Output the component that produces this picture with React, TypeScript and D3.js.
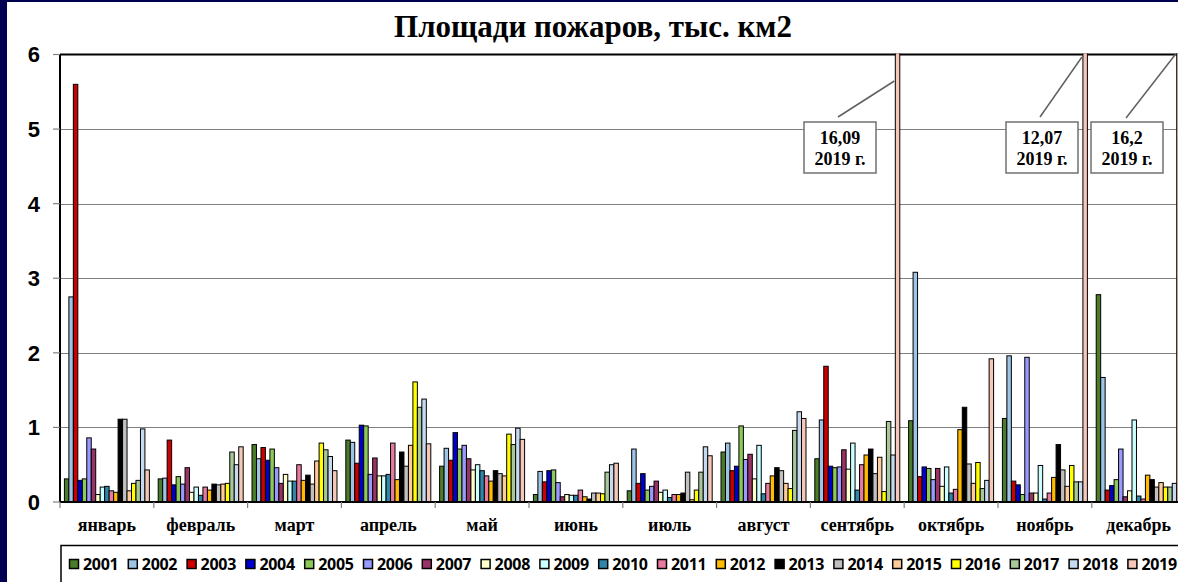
import { useEffect, useRef } from 'react';
import * as d3 from 'd3';

const months = ['январь', 'февраль', 'март', 'апрель', 'май', 'июнь', 'июль', 'август', 'сентябрь', 'октябрь', 'ноябрь', 'декабрь'];
const years = ['2001', '2002', '2003', '2004', '2005', '2006', '2007', '2008', '2009', '2010', '2011', '2012', '2013', '2014', '2015', '2016', '2017', '2018', '2019'];
const colors = ['#4a7c2a', '#9dc3e6', '#cc0000', '#0000cc', '#8cc95a', '#9999ff', '#993366', '#ffffcc', '#ccffff', '#2f86a8', '#e87aa0', '#ffbb00', '#000000', '#c0c0c0', '#ffcc99', '#ffff00', '#a8c89a', '#c5d9f1', '#f4c7b8'];

// values per month, one per year 2001..2019 (тыс. км2)
const jan = [0.31, 2.75, 5.6, 0.29, 0.31, 0.86, 0.71, 0.1, 0.2, 0.21, 0.15, 0.13, 1.11, 1.11, 0.15, 0.25, 0.29, 0.98, 0.43];
const feb = [0.31, 0.32, 0.83, 0.23, 0.34, 0.24, 0.46, 0.13, 0.2, 0.09, 0.2, 0.16, 0.24, 0.23, 0.24, 0.25, 0.67, 0.5, 0.74];
const mar = [0.77, 0.58, 0.73, 0.56, 0.71, 0.46, 0.25, 0.37, 0.28, 0.28, 0.5, 0.29, 0.36, 0.24, 0.55, 0.79, 0.7, 0.61, 0.42];
const apr = [0.83, 0.8, 0.52, 1.03, 1.02, 0.37, 0.59, 0.35, 0.35, 0.37, 0.79, 0.3, 0.67, 0.48, 0.76, 1.61, 1.27, 1.38, 0.78];
const may = [0.48, 0.72, 0.56, 0.93, 0.71, 0.76, 0.58, 0.43, 0.5, 0.42, 0.35, 0.28, 0.42, 0.38, 0.35, 0.91, 0.77, 0.99, 0.84];
const jun = [0.1, 0.41, 0.27, 0.42, 0.43, 0.26, 0.07, 0.1, 0.09, 0.09, 0.16, 0.07, 0.04, 0.12, 0.12, 0.11, 0.4, 0.5, 0.52];
const jul = [0.15, 0.71, 0.25, 0.38, 0.16, 0.21, 0.28, 0.13, 0.16, 0.06, 0.1, 0.1, 0.12, 0.4, 0.03, 0.16, 0.4, 0.74, 0.62];
const aug = [0.67, 0.79, 0.42, 0.48, 1.02, 0.57, 0.64, 0.31, 0.76, 0.11, 0.25, 0.35, 0.46, 0.42, 0.25, 0.18, 0.96, 1.21, 1.12];
const sep = [0.58, 1.1, 1.82, 0.48, 0.46, 0.47, 0.7, 0.44, 0.79, 0.16, 0.5, 0.63, 0.71, 0.38, 0.6, 0.14, 1.08, 0.63, 16.09];
const oct = [1.09, 3.08, 0.34, 0.47, 0.45, 0.3, 0.45, 0.21, 0.47, 0.12, 0.17, 0.97, 1.27, 0.51, 0.25, 0.53, 0.18, 0.29, 1.92];
const nov = [1.12, 1.96, 0.28, 0.23, 0.1, 1.94, 0.12, 0.12, 0.49, 0.04, 0.12, 0.33, 0.77, 0.43, 0.21, 0.49, 0.27, 0.27, 12.07];
const dec = [2.78, 1.67, 0.16, 0.22, 0.3, 0.71, 0.07, 0.15, 1.1, 0.08, 0.04, 0.36, 0.3, 0.2, 0.26, 0.2, 0.2, 0.25, 16.2];
const monthValues = [jan, feb, mar, apr, may, jun, jul, aug, sep, oct, nov, dec];

const yTicks = [0, 1, 2, 3, 4, 5, 6];

// off-scale values, labelled by hand like in the original
const callouts = [
  { month: 'сентябрь', value: '16,09', note: '2019 г.' },
  { month: 'ноябрь', value: '12,07', note: '2019 г.' },
  { month: 'декабрь', value: '16,2', note: '2019 г.' },
];
const calloutLayout = [
  { boxX: 804, lineX: 838, lineY: 117, endY: 81 },
  { boxX: 1006, lineX: 1040, lineY: 117, endY: 57 },
  { boxX: 1091, lineX: 1126, lineY: 118, endY: 54 },
];

const W = 1178;
const H = 582;

const FiresChart = () => {
  const svgRef = useRef<SVGSVGElement | null>(null);

  useEffect(() => {
    const svg = d3.select(svgRef.current);
    svg.selectAll('*').remove();

    const margin = { top: 54.5, left: 60, bottom: 502 };
    const step = 93.8;
    const plotRight = margin.left + step * months.length;

    // background (slide frame)
    svg.append('rect').attr('width', W).attr('height', H).attr('fill', '#000050');
    svg.append('rect').attr('x', 7).attr('y', 2).attr('width', W).attr('height', H).attr('fill', '#fff');

    const x0 = d3.scaleBand<string>()
      .domain(months)
      .range([margin.left, plotRight])
      .paddingInner(0.094)
      .paddingOuter(0.047);
    const x1 = d3.scaleBand<string>()
      .domain(years)
      .range([0, x0.bandwidth()]);
    const y = d3.scaleLinear().domain([0, 6]).range([margin.bottom, margin.top]);

    // title
    svg.append('text')
      .attr('x', 593)
      .attr('y', 37)
      .attr('text-anchor', 'middle')
      .attr('font-family', '"Liberation Serif", "Times New Roman", serif')
      .attr('font-weight', 'bold')
      .attr('font-size', 31)
      .text('Площади пожаров, тыс. км2');

    // gridlines
    svg.append('g')
      .selectAll('line')
      .data(yTicks.filter(d => d > 0 && d < 6))
      .enter()
      .append('line')
      .attr('x1', margin.left)
      .attr('x2', plotRight)
      .attr('y1', d => Math.round(y(d)) + 0.5)
      .attr('y2', d => Math.round(y(d)) + 0.5)
      .attr('stroke', '#808080')
      .attr('stroke-width', 1.2);

    // plot frame top
    svg.append('line')
      .attr('x1', margin.left).attr('x2', plotRight)
      .attr('y1', y(6)).attr('y2', y(6))
      .attr('stroke', '#000').attr('stroke-width', 2);

    // y axis
    const yAxis = svg.append('g');
    yAxis.append('line')
      .attr('x1', margin.left).attr('x2', margin.left)
      .attr('y1', y(6)).attr('y2', y(0))
      .attr('stroke', '#000').attr('stroke-width', 2);
    yAxis.selectAll('.ytick')
      .data(yTicks)
      .enter()
      .append('line')
      .attr('x1', margin.left - 7).attr('x2', margin.left)
      .attr('y1', d => y(d)).attr('y2', d => y(d))
      .attr('stroke', '#808080').attr('stroke-width', 1.2);
    yAxis.selectAll('.ylab')
      .data(yTicks)
      .enter()
      .append('text')
      .attr('x', 40)
      .attr('y', d => y(d))
      .attr('dy', '0.36em')
      .attr('text-anchor', 'end')
      .attr('font-family', '"Liberation Sans", Arial, sans-serif')
      .attr('font-weight', 'bold')
      .attr('font-size', 22)
      .text(d => d);

    // bars
    const defs = svg.append('defs');
    defs.append('clipPath').attr('id', 'plot-clip')
      .append('rect')
      .attr('x', margin.left).attr('y', margin.top - 1)
      .attr('width', plotRight - margin.left).attr('height', margin.bottom - margin.top + 1);

    const bars = svg.append('g').attr('clip-path', 'url(#plot-clip)');
    const groups = bars.selectAll('.month')
      .data(monthValues)
      .enter()
      .append('g')
      .attr('class', 'month')
      .attr('transform', (d, i) => `translate(${x0(months[i])}, 0)`);

    groups.selectAll('rect')
      .data(vals => vals.map((v, j) => ({ v, j })))
      .enter()
      .append('rect')
      .attr('x', d => x1(years[d.j]) as number)
      .attr('y', d => y(d.v))
      .attr('width', x1.bandwidth())
      .attr('height', d => y(0) - y(d.v))
      .attr('fill', d => colors[d.j])
      .attr('stroke', '#000')
      .attr('stroke-width', 1);

    // x axis
    const xAxis = svg.append('g');
    xAxis.append('line')
      .attr('x1', margin.left).attr('x2', plotRight)
      .attr('y1', y(0)).attr('y2', y(0))
      .attr('stroke', '#000').attr('stroke-width', 2);
    xAxis.selectAll('.xtick')
      .data(d3.range(months.length + 1))
      .enter()
      .append('line')
      .attr('x1', i => margin.left + i * step)
      .attr('x2', i => margin.left + i * step)
      .attr('y1', y(0)).attr('y2', y(0) + 6)
      .attr('stroke', '#808080').attr('stroke-width', 1.2);
    xAxis.selectAll('.xlab')
      .data(months)
      .enter()
      .append('text')
      .attr('x', d => (x0(d) as number) + x0.bandwidth() / 2)
      .attr('y', 531)
      .attr('text-anchor', 'middle')
      .attr('font-family', '"Liberation Serif", "Times New Roman", serif')
      .attr('font-weight', 'bold')
      .attr('font-size', 18)
      .text(d => d);

    // callouts for off-scale bars
    callouts.forEach((c, k) => {
      const L = calloutLayout[k];
      const barX = (x0(c.month) as number) + (x1('2019') as number);
      svg.append('line')
        .attr('x1', L.lineX).attr('y1', L.lineY)
        .attr('x2', barX - 1).attr('y2', L.endY)
        .attr('stroke', '#606060').attr('stroke-width', 1.5);
      const g = svg.append('g').attr('transform', `translate(${L.boxX}, 122)`);
      g.append('rect')
        .attr('width', 72).attr('height', 51)
        .attr('fill', '#fff')
        .attr('stroke', '#707070').attr('stroke-width', 1.5);
      g.append('text')
        .attr('x', 36).attr('y', 22)
        .attr('text-anchor', 'middle')
        .attr('font-family', '"Liberation Serif", "Times New Roman", serif')
        .attr('font-weight', 'bold')
        .attr('font-size', 18)
        .text(c.value);
      g.append('text')
        .attr('x', 36).attr('y', 43)
        .attr('text-anchor', 'middle')
        .attr('font-family', '"Liberation Serif", "Times New Roman", serif')
        .attr('font-weight', 'bold')
        .attr('font-size', 18)
        .text(c.note);
    });

    // legend
    const legend = svg.append('g');
    legend.append('rect')
      .attr('x', 61).attr('y', 545.5)
      .attr('width', 1200).attr('height', 60)
      .attr('fill', '#fff')
      .attr('stroke', '#000').attr('stroke-width', 1.5);
    const items = legend.selectAll('.item')
      .data(years)
      .enter()
      .append('g')
      .attr('transform', (d, i) => `translate(${69.5 + i * 58.8}, 559.5)`);
    items.append('rect')
      .attr('width', 9).attr('height', 9)
      .attr('fill', (d, i) => colors[i])
      .attr('stroke', '#000').attr('stroke-width', 1.5);
    items.append('text')
      .attr('x', 13.5).attr('y', 10)
      .attr('font-family', '"Open Sans", Lato, sans-serif')
      .attr('font-weight', 'bold')
      .attr('font-size', 16)
      .attr('letter-spacing', -0.3)
      .text(d => d);
  }, []);

  return (
    <svg ref={svgRef} width={W} height={H} style={{ position: 'absolute', left: 0, top: 0 }}></svg>
  );
};

export default function App() {
  return <FiresChart />;
}
